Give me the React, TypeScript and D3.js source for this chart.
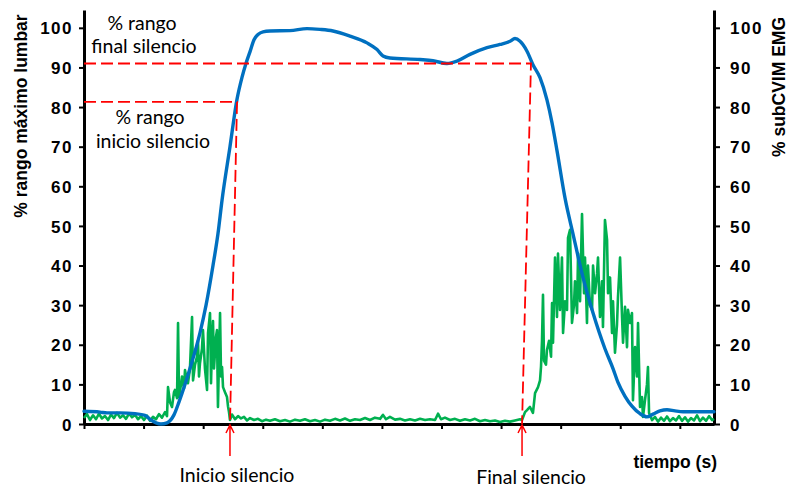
import React, { useEffect, useRef } from 'react';
import * as d3 from 'd3';

const W = 789;
const H = 488;

// Rango lumbar (% del máximo), eje izquierdo. Tiempo en ms.
const lumbarMs = [
  0, 161, 232, 363, 514, 614, 675, 725, 775, 836, 906, 957, 1067, 1168, 1229, 1299, 1349, 1390,
  1470, 1541, 1591, 1631, 1672, 1712, 1752, 1803, 1873, 2074, 2246, 2377, 2507, 2679, 2850, 2951,
  3011, 3081, 3384, 3514, 3655, 3756, 3887, 4058, 4189, 4290, 4340, 4391, 4461, 4521, 4592, 4662,
  4713, 4763, 4844, 4924, 5025, 5126, 5246, 5327, 5377, 5448, 5518, 5599, 5669, 5730, 5800, 5871,
  5951, 6032, 6344,
];
const lumbarPct = [
  3.2, 3.0, 2.8, 2.8, 2.6, 2.2, 1.0, 0.3, 0.0, 0.3, 2.3, 5.6, 14, 23, 30, 40, 48, 56.5,
  70, 82, 87.5, 91, 94, 97, 98.3, 99, 99.2, 99.3, 99.8, 99.6, 99.2, 97.9, 96.2, 94.5,
  92.9, 92.4, 92.0, 91.7, 91.0, 91.6, 93.3, 95.0, 95.8, 96.6, 97.3, 96.6, 94.1, 90.7, 87.4, 81.8,
  76, 69, 57, 48, 37, 28, 19, 14, 10.5, 7, 4.5, 2.6, 1.8, 2.5, 3.3, 3.6,
  3.3, 3.1, 3.1,
];

// EMG (% subCVIM), eje derecho. Tiempo en ms.
const emgMs = [
  0, 30, 60, 91, 121, 151, 181, 211, 242, 272, 302, 332, 363, 393, 423, 453, 483, 514, 544, 574,
  604, 634, 665, 695, 725, 755, 785, 816,
  836, 846, 866, 886, 906, 916, 937, 947, 957, 977, 987, 1007, 1017, 1037, 1047, 1067, 1088, 1098,
  1118, 1138, 1148, 1158, 1168, 1188, 1198, 1218, 1239, 1249, 1269, 1279, 1289, 1299, 1309, 1319,
  1329, 1339, 1349, 1359, 1370, 1380, 1390, 1400, 1420, 1440, 1450, 1460, 1470,
  1490, 1521, 1551, 1581, 1611, 1641, 1672, 1712, 1752, 1792, 1833, 1873, 1923, 1974, 2024, 2074,
  2125, 2175, 2225, 2276, 2326, 2377, 2427, 2477, 2528, 2578, 2628, 2679, 2729, 2779, 2830, 2880,
  2930, 2981, 3011, 3041, 3081, 3132, 3182, 3232, 3283, 3333, 3384, 3434, 3484, 3535, 3565, 3595,
  3635, 3686, 3736, 3786, 3837, 3887, 3937, 3988, 4038, 4088, 4139, 4189, 4239, 4290, 4340, 4391,
  4411,
  4441, 4461, 4491, 4521, 4542, 4572, 4592, 4602, 4612, 4622, 4632, 4652, 4662, 4683, 4703, 4713,
  4723, 4743, 4763, 4773, 4793, 4813, 4824, 4844, 4864, 4874, 4894, 4914, 4934, 4944, 4965, 4975,
  4995, 5015, 5035, 5045, 5065, 5075, 5095, 5116, 5126, 5146, 5166, 5176, 5196, 5216, 5226, 5246,
  5267, 5277, 5297, 5317, 5327, 5347, 5367, 5377, 5398, 5418, 5428, 5448, 5468, 5478, 5498, 5518,
  5528, 5549, 5569, 5579, 5599, 5619, 5629, 5649, 5669, 5679, 5690,
  5720, 5750, 5780, 5810, 5841, 5871, 5901, 5931, 5961, 5992, 6022, 6052, 6082, 6112, 6143, 6173,
  6203, 6233, 6264, 6294, 6324, 6344,
];
const emgPct = [
  1.5, 2.5, 1.0, 2.2, 1.2, 2.6, 1.4, 2.0, 1.0, 2.4, 1.5, 2.8, 1.6, 2.2, 1.3, 2.6, 1.7, 2.3, 1.2, 2.0,
  1.0, 2.1, 0.8, 1.8, 1.2, 2.5, 1.6, 3.0,
  2.0, 9.3, 5.5, 4.3, 8.0, 8.6, 6.5, 25.5, 6.8, 10, 12, 9, 13.6, 11, 10.3, 14, 27, 11,
  15, 17, 21, 12, 15.4, 19, 23.7, 14, 8.6, 23, 28, 10.3, 20, 26, 14, 18,
  22, 23.7, 4.3, 16, 28, 12, 14.4, 9.3, 8, 6.8, 4.5, 3, 1.0,
  2.4, 1.2, 2.0, 1.4, 1.8, 0.9, 1.5, 1.0, 1.3, 0.7, 1.1, 0.8, 1.2, 0.7, 1.0, 0.6,
  1.1, 0.8, 1.2, 0.7, 1.0, 0.6, 1.1, 0.8, 1.3, 0.9, 1.4, 0.8, 1.2, 1.0, 1.5, 1.0,
  1.6, 1.3, 2.3, 1.2, 1.8, 1.1, 1.3, 0.9, 1.2, 0.9, 1.3, 1.0, 1.2, 1.0, 2.6, 1.2,
  1.6, 1.0, 1.3, 0.8, 1.2, 0.9, 1.3, 0.7, 1.0, 0.7, 0.9, 0.5, 0.8, 0.6, 0.9, 1.2,
  1.0,
  3.0, 3.5, 4.3, 2.8, 7.8, 9.3, 11, 14.4, 21, 32.6, 16, 15, 18.7, 21, 17, 30.5,
  20.5, 42, 27, 43, 28.8, 42, 23, 31, 28.8, 47, 49, 25.5, 30, 36, 28, 43,
  31, 53, 33, 42, 25.5, 40, 30, 28.8, 40, 33, 38, 42, 27, 36, 24.5, 51.5,
  46.5, 33, 37, 23, 31, 18, 25, 32, 42, 27, 20.5, 29.6, 19.4, 28.8, 25.5, 28,
  6, 19.4, 12, 25.5, 4.3, 6.8, 1.8, 6, 10, 14.4, 2.8,
  1.0, 1.8, 0.6, 1.6, 0.8, 1.9, 0.7, 1.5, 0.9, 2.0, 0.8, 1.7, 0.6, 1.5, 0.9, 2.2,
  0.7, 1.6, 0.8, 2.0, 1.0, 1.3,
];

const yTicks = [0, 10, 20, 30, 40, 50, 60, 70, 80, 90, 100];
const xTickMs = [0, 600, 1200, 1800, 2400, 3000, 3600, 4200, 4800, 5400, 6000];

// marcas de silencio: nivel del rango y tiempos
const startLevel = 81.3;
const startTopMs = 1541;
const startMs = 1470;
const endLevel = 91;
const endTopMs = 4501;
const endMs = 4411;

const App = () => {
  const ref = useRef<SVGSVGElement>(null);

  useEffect(() => {
    const svg = d3.select(ref.current);
    svg.selectAll('*').remove();

    const x = d3.scaleLinear().domain([0, 6344]).range([84, 714]);
    const yL = d3.scaleLinear().domain([0, 104.5]).range([424, 10]);
    const yR = d3.scaleLinear().domain([0, 104.5]).range([424, 10]);

    const tickFont = (g) => {
      g.selectAll('text')
        .attr('fill', '#000')
        .style('font-family', '"Liberation Sans", Arial, sans-serif')
        .style('font-weight', 'bold')
        .style('font-size', '17px')
        .style('letter-spacing', '1.5px');
      g.selectAll('line').attr('stroke', '#000').attr('stroke-width', 2);
      g.select('.domain').attr('stroke', '#000').attr('stroke-width', 3);
    };

    // ejes
    svg.append('g')
      .attr('transform', 'translate(84,0)')
      .call(d3.axisLeft(yL).tickValues(yTicks).tickSize(5).tickSizeOuter(0).tickPadding(6))
      .call(tickFont)
      .call(g => g.selectAll('text').attr('dy', '0.36em'));

    svg.append('g')
      .attr('transform', 'translate(714,0)')
      .call(d3.axisRight(yR).tickValues(yTicks).tickSize(6).tickSizeOuter(0).tickPadding(10))
      .call(tickFont)
      .call(g => g.selectAll('text').attr('dy', '0.36em'));

    svg.append('g')
      .attr('transform', 'translate(0,424)')
      .call(d3.axisBottom(x).tickValues(xTickMs).tickSize(5).tickSizeOuter(0).tickFormat(() => ''))
      .call(tickFont);

    // series
    const emgLine = d3.line<number>()
      .x((d, i) => x(emgMs[i]))
      .y(d => yR(d));
    svg.append('path')
      .attr('d', emgLine(emgPct))
      .attr('fill', 'none')
      .attr('stroke', '#00B050')
      .attr('stroke-width', 2.6)
      .attr('stroke-linejoin', 'round');

    const lumbarLine = d3.line<number>()
      .x((d, i) => x(lumbarMs[i]))
      .y(d => yL(d))
      .curve(d3.curveMonotoneX);
    svg.append('path')
      .attr('d', lumbarLine(lumbarPct))
      .attr('fill', 'none')
      .attr('stroke', '#0070C0')
      .attr('stroke-width', 3.4)
      .attr('stroke-linecap', 'round');

    // líneas discontinuas
    const dash = svg.append('g')
      .attr('fill', 'none')
      .attr('stroke', '#FF0000')
      .attr('stroke-width', 1.8)
      .attr('stroke-dasharray', '12,5');
    dash.append('path')
      .attr('d', `M${x(0)},${yL(endLevel)}H${x(endTopMs)}L${x(endMs)},${yL(0)}`);
    dash.append('path')
      .attr('d', `M${x(0)},${yL(startLevel)}H${x(startTopMs)}L${x(startMs)},${yL(0)}`);

    // flechas
    [startMs, endMs].forEach(t => {
      const cx = x(t);
      svg.append('path')
        .attr('d', `M${cx},456V${yL(0) + 1}M${cx - 4},${yL(0) + 9}L${cx},${yL(0) + 1}L${cx + 4},${yL(0) + 9}`)
        .attr('fill', 'none')
        .attr('stroke', '#FF0000')
        .attr('stroke-width', 1.5);
    });

    // textos
    const note = (txt, tx, ty, anchor = 'middle') => svg.append('text')
      .attr('x', tx).attr('y', ty)
      .attr('text-anchor', anchor)
      .style('font-family', 'Lato, "Open Sans", sans-serif')
      .style('font-size', '19.5px')
      .attr('fill', '#000')
      .text(txt);

    note('% rango', 142, 30);
    note('final silencio', 144, 53);
    note('% rango', 150, 124);
    note('inicio silencio', 153, 148);
    note('Inicio silencio', x(startMs) + 7, 482);
    note('Final silencio', x(endMs) + 9, 484);

    const bold = (txt, tx, ty, anchor, rot = 0) => svg.append('text')
      .attr('transform', `translate(${tx},${ty}) rotate(${rot})`)
      .attr('text-anchor', anchor)
      .style('font-family', '"Liberation Sans", Arial, sans-serif')
      .style('font-weight', 'bold')
      .style('font-size', '17.5px')
      .attr('fill', '#000')
      .text(txt);

    bold('tiempo (s)', 717, 468, 'end');
    bold('% rango máximo lumbar', 27, 116, 'middle', -90);
    bold('% subCVIM EMG', 785, 87, 'middle', -90);
  }, []);

  return (
    <svg
      ref={ref}
      width={W}
      height={H}
      style={{ position: 'absolute', left: 0, top: 0, background: '#fff' }}
    />
  );
};

export default App;
